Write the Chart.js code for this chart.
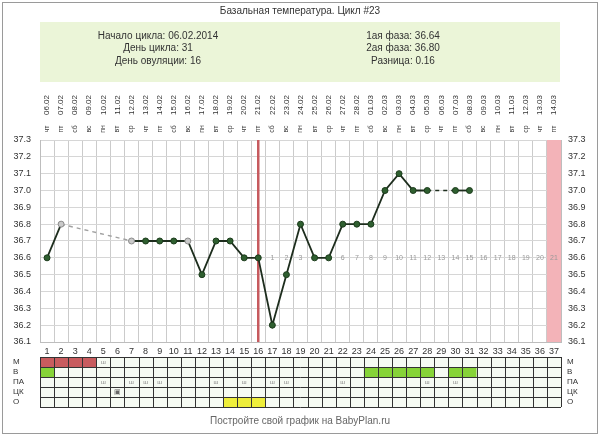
<!DOCTYPE html>
<html><head><meta charset="utf-8">
<script src="https://cdn.jsdelivr.net/npm/chart.js@4"></script>
<style>html,body{margin:0;padding:0;background:#fff}</style>
</head><body>
<canvas id="c" width="600" height="436"></canvas>
<script>
const days = ['1','2','3','4','5','6','7','8','9','10','11','12','13','14','15','16','17','18','19','20','21','22','23','24','25','26','27','28','29','30','31','32','33','34','35','36','37'];
const dates = ['06.02','07.02','08.02','09.02','10.02','11.02','12.02','13.02','14.02','15.02','16.02','17.02','18.02','19.02','20.02','21.02','22.02','23.02','24.02','25.02','26.02','27.02','28.02','01.03','02.03','03.03','04.03','05.03','06.03','07.03','08.03','09.03','10.03','11.03','12.03','13.03','14.03'];
const weekdays = ['чт','пт','сб','вс','пн','вт','ср','чт','пт','сб','вс','пн','вт','ср','чт','пт','сб','вс','пн','вт','ср','чт','пт','сб','вс','пн','вт','ср','чт','пт','сб','вс','пн','вт','ср','чт','пт'];
const temps = [36.6,36.8,null,null,null,null,36.7,36.7,36.7,36.7,36.7,36.5,36.7,36.7,36.6,36.6,36.2,36.5,36.8,36.6,36.6,36.8,36.8,36.8,37.0,37.1,37.0,37.0,null,37.0,37.0,null,null,null,null,null,null];
const excludedDays = [2,7,11];
const yTickLabels = ['36.1','36.2','36.3','36.4','36.5','36.6','36.7','36.8','36.9','37.0','37.1','37.2','37.3'];
const ovulationDay = 16;
const coverline = 36.6;
const afterOvulation = ['1','2','3','4','5','6','7','8','9','10','11','12','13','14','15','16','17','18','19','20','21'];
const forecastDays = [37];
const rowLabels = ['М','В','ПА','ЦК','О'];
const mensDays = [1,2,3,4];
const mensMarkDays = [5];
const dischargeDays = [1,24,25,26,27,28,30,31];
const intercourseDays = [5,7,8,9,13,15,17,18,22,28,30];
const ckDays = [6];
const ovTestDays = [14,15,16];
const titleText = 'Базальная температура. Цикл #23';
const infoLeft = ['Начало цикла: 06.02.2014','День цикла: 31','День овуляции: 16'];
const infoRight = ['1ая фаза: 36.64','2ая фаза: 36.80','Разница: 0.16'];
const footerText = 'Постройте свой график на BabyPlan.ru';

const FONT = '"Liberation Sans", Arial, sans-serif';
const yTicks = [];
yTickLabels.forEach((l,i)=>{ const v=parseFloat(l); yTicks.push(v); if(i<yTickLabels.length-1) yTicks.push(Math.round((v+0.05)*100)/100); });
const yCb = v => { const s=v.toFixed(2); return s.endsWith('0') ? v.toFixed(1) : ''; };

const decor = {
  id:'decor',
  beforeDraw(chart){
    const c=chart.ctx; c.save();
    c.fillStyle='#fff'; c.fillRect(0,0,600,436);
    c.strokeStyle='#9a9a9a'; c.lineWidth=1; c.strokeRect(2.5,2.5,595,431);
    c.fillStyle='#333'; c.font='10px '+FONT; c.textAlign='center'; c.textBaseline='middle';
    c.fillText(titleText,300,11);
    c.fillStyle='#ebf5d8'; c.fillRect(40,22,520,60);
    c.fillStyle='#333';
    infoLeft.forEach((t,i)=>c.fillText(t,158,36+i*12.5));
    infoRight.forEach((t,i)=>c.fillText(t,403,36+i*12.5));
    const xs=chart.scales.x;
    dates.forEach((d,i)=>{
      const x=xs.getPixelForValue(i);
      c.save(); c.translate(x,105); c.rotate(-Math.PI/2); c.font='8px '+FONT; c.fillText(d,0,0); c.restore();
      c.save(); c.translate(x,129); c.rotate(-Math.PI/2); c.font='7px '+FONT; c.fillText(weekdays[i],0,0); c.restore();
    });
    c.fillStyle='#666'; c.font='10px '+FONT;
    c.fillText(footerText,300,421);
    c.restore();
  },
  beforeDatasetsDraw(chart){
    const c=chart.ctx, xs=chart.scales.x, ys=chart.scales.y, a=chart.chartArea; c.save();
    const w=(a.right-a.left)/days.length;
    c.fillStyle='#f3b3b8';
    forecastDays.forEach(d=>{ const x=xs.getPixelForValue(d-1); c.fillRect(x-w/2,a.top,w,a.bottom-a.top); });
    const yc=ys.getPixelForValue(coverline);
    c.font='7px '+FONT; c.fillStyle='#999'; c.textAlign='center'; c.textBaseline='middle';
    afterOvulation.forEach((t,i)=>{ c.fillText(t,xs.getPixelForValue(ovulationDay+i),yc); });
    const xo=xs.getPixelForValue(ovulationDay-1);
    c.strokeStyle='#c65a5e'; c.lineWidth=2.5; c.beginPath(); c.moveTo(xo,a.top); c.lineTo(xo,a.bottom); c.stroke();
    c.restore();
  },
  afterDraw(chart){
    const c=chart.ctx, xs=chart.scales.x, a=chart.chartArea; c.save();
    const w=(a.right-a.left)/days.length, top=357, rh=10;
    c.fillStyle='#f6fbf3'; c.fillRect(a.left,top,a.right-a.left,rh*rowLabels.length);
    const cell=(d,r,col)=>{ const x=xs.getPixelForValue(d-1)-w/2; c.fillStyle=col; c.fillRect(x,top+r*rh,w,rh); };
    mensDays.forEach(d=>cell(d,0,'#c85c5e'));
    dischargeDays.forEach(d=>cell(d,1,'#86d437'));
    ovTestDays.forEach(d=>cell(d,4,'#eeee3a'));
    c.font='6px '+FONT; c.fillStyle='#888'; c.textAlign='center'; c.textBaseline='middle';
    const mark=(d,r,t)=>c.fillText(t,xs.getPixelForValue(d-1),top+r*rh+rh/2);
    mensMarkDays.forEach(d=>mark(d,0,'ш'));
    intercourseDays.forEach(d=>mark(d,2,'ш'));
    c.font='7px '+FONT; c.fillStyle='#666';
    ckDays.forEach(d=>mark(d,3,'▣'));
    c.strokeStyle='#333'; c.lineWidth=1; c.beginPath();
    for(let r=0;r<=rowLabels.length;r++){ const y=Math.round(top+r*rh)+0.5; c.moveTo(a.left,y); c.lineTo(a.right,y); }
    for(let i=0;i<=days.length;i++){ const x=Math.round(a.left+i*w)+0.5; c.moveTo(x,top); c.lineTo(x,top+rowLabels.length*rh); }
    c.stroke();
    c.fillStyle='#333'; c.font='8px '+FONT; c.textAlign='left';
    rowLabels.forEach((t,r)=>{ c.fillText(t,13,top+r*rh+rh/2); c.fillText(t,567,top+r*rh+rh/2); });
    c.restore();
  }
};

const isExcl = i => excludedDays.includes(i+1);
const prevReal = i => { while(i>=0 && temps[i]===null) i--; return i; };
const nextReal = i => { while(i<temps.length && temps[i]===null) i++; return i; };
const inGap = ctx => ctx.p0.skip || ctx.p1.skip;
const gapGray = ctx => isExcl(prevReal(ctx.p0DataIndex)) || isExcl(nextReal(ctx.p1DataIndex));

new Chart(document.getElementById('c'),{
  type:'line',
  data:{labels:days,datasets:[{
    data:temps, spanGaps:true,
    borderColor:'#1d2d1d', borderWidth:1.8,
    pointRadius:3, pointBorderWidth:1,
    pointBackgroundColor:temps.map((v,i)=>isExcl(i)?'#c9c9c9':'#2f5f30'),
    pointBorderColor:temps.map((v,i)=>isExcl(i)?'#8a8a8a':'#1c3c1c'),
    segment:{
      borderDash:ctx=>inGap(ctx)?[4,4]:undefined,
      borderColor:ctx=>inGap(ctx)&&gapGray(ctx)?'#a0a0a0':undefined,
      borderWidth:ctx=>inGap(ctx)?1.4:undefined
    }
  }]},
  options:{
    responsive:false, animation:false,
    layout:{padding:{top:140,left:0,right:0,bottom:0}},
    plugins:{legend:{display:false},tooltip:{enabled:false},title:{display:false}},
    scales:{
      x:{type:'category',offset:true,
        grid:{offset:true,color:'#cbcbcb',drawTicks:false},
        border:{color:'#bdbdbd'},
        ticks:{color:'#333',font:{size:9,family:FONT},padding:4,maxRotation:0,autoSkip:false},
        afterFit:s=>{s.height=94;}},
      y:{type:'linear',position:'left',min:36.1,max:37.3,
        afterBuildTicks:s=>{s.ticks=yTicks.map(v=>({value:v}));},
        grid:{color:'#d6d6d6',drawTicks:false},
        border:{color:'#bdbdbd'},
        ticks:{color:'#333',font:{size:9,family:FONT},padding:9,callback:yCb},
        afterFit:s=>{s.width=40;}},
      y2:{type:'linear',position:'right',min:36.1,max:37.3,
        afterBuildTicks:s=>{s.ticks=yTicks.map(v=>({value:v}));},
        grid:{display:false,drawTicks:false},
        border:{color:'#bdbdbd'},
        ticks:{color:'#333',font:{size:9,family:FONT},padding:7,callback:yCb},
        afterFit:s=>{s.width=39;}}
    }
  },
  plugins:[decor]
});
</script>
</body></html>
